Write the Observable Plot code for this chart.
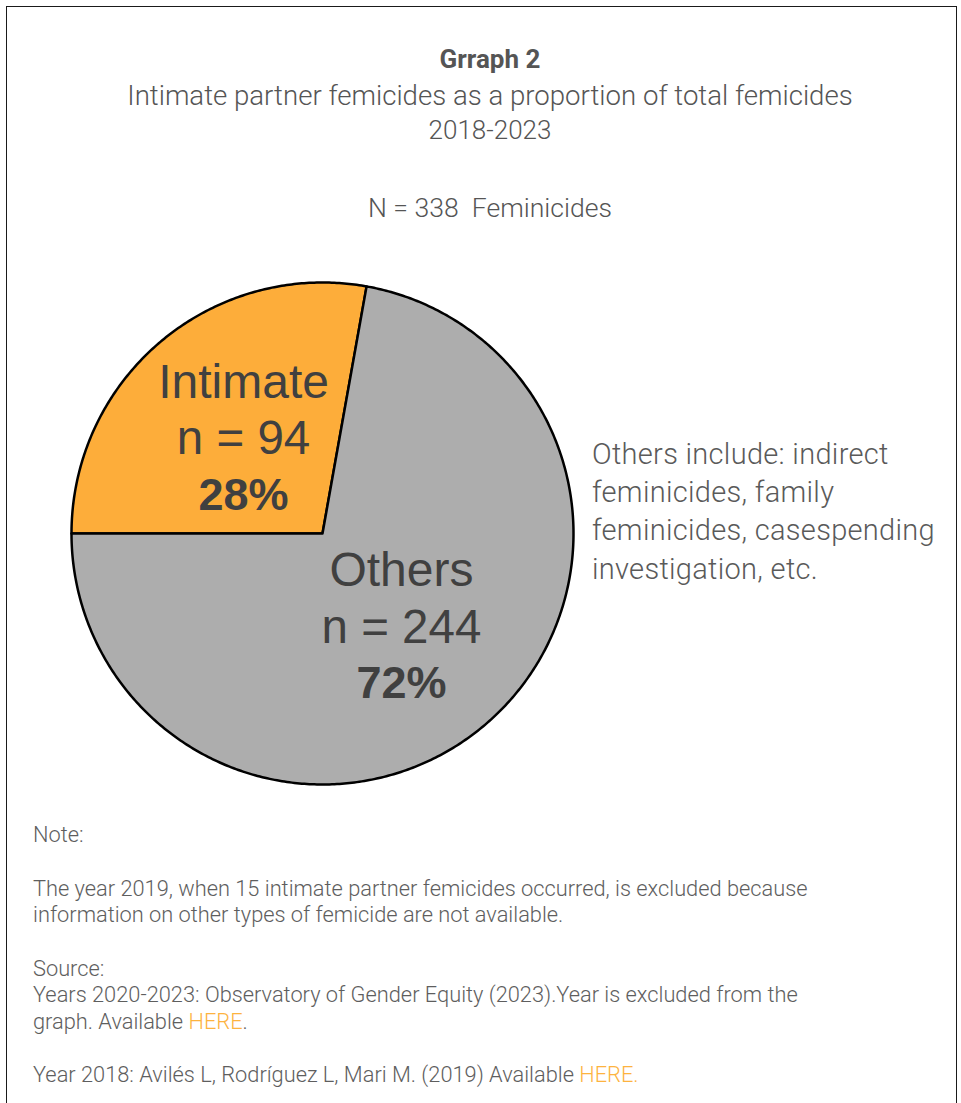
<!DOCTYPE html>
<html>
<head>
<meta charset="utf-8">
<script src="https://cdn.jsdelivr.net/npm/d3@7"></script>
<script src="https://cdn.jsdelivr.net/npm/@observablehq/plot@0.6"></script>
<style>
  html, body { margin: 0; padding: 0; background: #fff; }
  body { width: 961px; height: 1103px; overflow: hidden; position: relative; font-family: Roboto, "Open Sans", sans-serif; }
  .frame { position: absolute; left: 6px; top: 6px; width: 949px; height: 1120px; border: 1.5px solid #1a1a1a; }
  .t { position: absolute; white-space: nowrap; }
  .center { left: 0; width: 980px; text-align: center; }
  .title { font-weight: 700; font-size: 26px; color: #555; }
  .sub { font-weight: 300; font-size: 27.6px; color: #555; }
  .year { font-weight: 300; font-size: 26px; color: #555; }
  .nline { font-weight: 300; font-size: 26.6px; color: #555; }
  .side { font-weight: 300; font-size: 29px; color: #5a5a5a; letter-spacing: 0.3px; left: 592px; }
  .note { font-weight: 300; font-size: 21.8px; color: #5e5e5e; left: 33px; }
  .here { color: #FDB33F; }
  #chart { position: absolute; left: 52px; top: 263px; }
</style>
</head>
<body>
<div class="frame"></div>
<div class="t center title" style="top:44px;line-height:30px">Grraph 2</div>
<div class="t center sub" style="top:79px;line-height:34px">Intimate partner femicides as a proportion of total femicides</div>
<div class="t center year" style="top:113px;line-height:34px">2018-2023</div>
<div class="t center nline" style="top:191px;line-height:34px">N = 338&nbsp; Feminicides</div>

<div id="chart"></div>

<div class="t side" style="top:435px;line-height:38px">Others include: indirect</div>
<div class="t side" style="top:473px;line-height:38px">feminicides, family</div>
<div class="t side" style="top:511px;line-height:38px">feminicides, casespending</div>
<div class="t side" style="top:550px;line-height:38px">investigation, etc.</div>

<div class="t note" style="top:822px;line-height:26px">Note:</div>
<div class="t note" style="top:876px;line-height:26px">The year 2019, when 15 intimate partner femicides occurred, is excluded because</div>
<div class="t note" style="top:902px;line-height:26px">information on other types of femicide are not available.</div>
<div class="t note" style="top:956px;line-height:26px">Source:</div>
<div class="t note" style="top:982px;line-height:26px">Years 2020-2023: Observatory of Gender Equity (2023).Year is excluded from the</div>
<div class="t note" style="top:1009px;line-height:26px">graph. Available <span class="here">HERE</span>.</div>
<div class="t note" style="top:1062px;line-height:26px">Year 2018: Avilés L, Rodríguez L, Mari M. (2019) Available <span class="here">HERE.</span></div>

<script>
// ---- data ----
const categories = ["Intimate", "Others"];
const counts = [94, 244];
const countLabels = ["n = 94", "n = 244"];
const percentLabels = ["28%", "72%"];
const sliceColors = ["#FDAD3A", "#ADADAD"];

// ---- pie geometry via d3.pie ----
const pie = d3.pie().sort(null).startAngle(-Math.PI / 2).endAngle(3 * Math.PI / 2);
const arcs = pie(counts);

const R = 1;
const outline = [];
arcs.forEach((a, i) => {
  const cat = categories[i];
  outline.push({cat, x: 0, y: 0});
  const n = Math.max(2, Math.ceil((a.endAngle - a.startAngle) / 0.01));
  for (let k = 0; k <= n; k++) {
    const t = a.startAngle + (a.endAngle - a.startAngle) * k / n;
    outline.push({cat, x: R * Math.sin(t), y: R * Math.cos(t)});
  }
  outline.push({cat, x: 0, y: 0});
});

const labelR = 0.49;
const labels = arcs.map((a, i) => {
  const m = (a.startAngle + a.endAngle) / 2;
  return {
    cat: categories[i],
    name: categories[i],
    n: countLabels[i],
    pct: percentLabels[i],
    x: labelR * Math.sin(m),
    y: labelR * Math.cos(m)
  };
});

const size = 540;
const half = size / 2 / 251;
const labelFont = "Liberation Sans, Arial, sans-serif";

const chart = Plot.plot({
  width: size,
  height: size,
  margin: 0,
  x: {domain: [-half, half], axis: null},
  y: {domain: [-half, half], axis: null},
  color: {domain: categories, range: sliceColors},
  style: {background: "transparent", overflow: "visible"},
  marks: [
    Plot.line(outline, {
      x: "x", y: "y", z: "cat", fill: "cat",
      stroke: "#000", strokeWidth: 2.5, strokeLinejoin: "round"
    }),
    Plot.text(labels, {x: "x", y: "y", text: "name", dy: -57, fontSize: 48, fill: "#404040", fontFamily: labelFont}),
    Plot.text(labels, {x: "x", y: "y", text: "n", dy: 0, fontSize: 47.5, fill: "#404040", fontFamily: labelFont}),
    Plot.text(labels, {x: "x", y: "y", text: "pct", dy: 56, fontSize: 45, fontWeight: "bold", fill: "#404040", fontFamily: labelFont})
  ]
});
document.getElementById("chart").appendChild(chart);
</script>
</body>
</html>
